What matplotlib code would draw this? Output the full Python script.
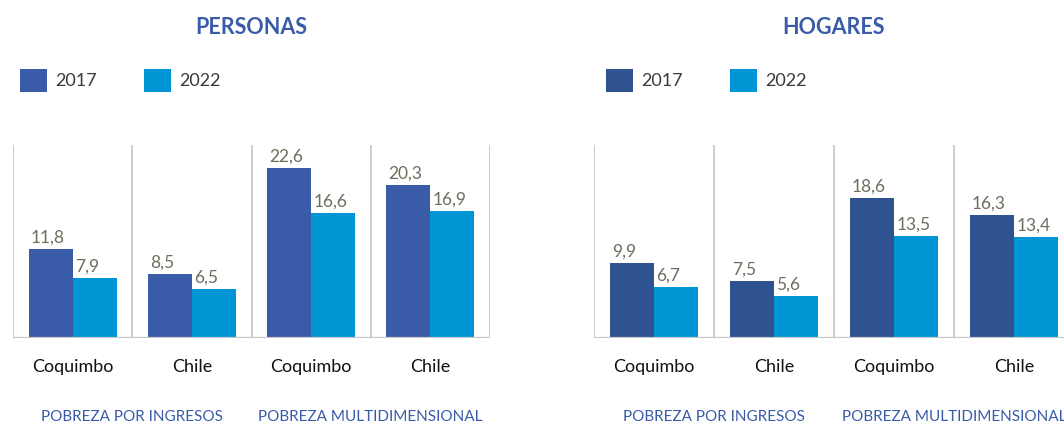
import matplotlib
matplotlib.use("Agg")
import matplotlib.pyplot as plt

plt.rcParams['font.family'] = ['Lato', 'DejaVu Sans']

# --- DATA ---
categories = ['Coquimbo', 'Chile', 'Coquimbo', 'Chile']
groups = ['POBREZA POR INGRESOS', 'POBREZA MULTIDIMENSIONAL']
years = ['2017', '2022']
personas_2017 = [11.8, 8.5, 22.6, 20.3]
personas_2022 = [7.9, 6.5, 16.6, 16.9]
hogares_2017 = [9.9, 7.5, 18.6, 16.3]
hogares_2022 = [6.7, 5.6, 13.5, 13.4]

# colours
blue_title = '#3a5ba8'
c2022 = '#0096d6'
label_col = '#6e6e5f'
line_col = '#c8c8c8'

fig = plt.figure(figsize=(10.64, 4.26), dpi=100)

# axes positions in figure fractions (right panel runs past the edge like the source)
ax1 = fig.add_axes([13 / 1064, 1 - 338 / 426, 477 / 1064, 193 / 426])
ax2 = fig.add_axes([594 / 1064, 1 - 338 / 426, 480 / 1064, 193 / 426])

panels = [
    (ax1, 'PERSONAS', personas_2017, personas_2022, '#3a5ba8', 20),
    (ax2, 'HOGARES', hogares_2017, hogares_2022, '#2f5391', 606),
]

w = 0.37
for ax, title, v17, v22, c2017, leg_x in panels:
    x = list(range(len(categories)))
    b1 = ax.bar([i - w / 2 for i in x], v17, width=w, color=c2017, label=years[0])
    b2 = ax.bar([i + w / 2 for i in x], v22, width=w, color=c2022, label=years[1])

    # value labels, left aligned on each bar
    for bars, vals in ((b1, v17), (b2, v22)):
        for r, v in zip(bars, vals):
            ax.text(r.get_x() + 0.02, v + 0.45, f'{v:.1f}'.replace('.', ','),
                    ha='left', va='bottom', fontsize=12.5, color=label_col)

    ax.set_xlim(-0.5, len(categories) - 0.5)
    ax.set_ylim(0, 25.6)
    for xv in [k - 0.5 for k in range(len(categories) + 1)]:
        ax.axvline(xv, color=line_col, lw=1.3, zorder=0)
    ax.axhline(0, color=line_col, lw=1.6, zorder=3)

    for s in ax.spines.values():
        s.set_visible(False)
    ax.set_xticks([])
    ax.set_yticks([])

    tr = ax.get_xaxis_transform()
    for i, cat in enumerate(categories):
        ax.text(i, -0.15, cat, ha='center', va='center', fontsize=13,
                color='#111111', transform=tr)
    for g, name in enumerate(groups):
        ax.text(2 * g + 0.5, -0.41, name, ha='center', va='center', fontsize=11,
                color=blue_title, transform=tr)

    ax.text(0.5, 1.611, title, ha='center', va='center', fontsize=15.5,
            fontweight='bold', color=blue_title, transform=ax.transAxes)

    leg = fig.legend(handles=[b1, b2], loc='center left',
                     bbox_to_anchor=(leg_x / 1064, 1 - 80.5 / 426),
                     ncol=2, frameon=False, fontsize=13, borderpad=0,
                     borderaxespad=0, handlelength=1.5, handleheight=1.5,
                     handletextpad=0.45, columnspacing=2.6)
    for t in leg.get_texts():
        t.set_color('#3a3a3a')

fig.savefig('out.png', dpi=100)
